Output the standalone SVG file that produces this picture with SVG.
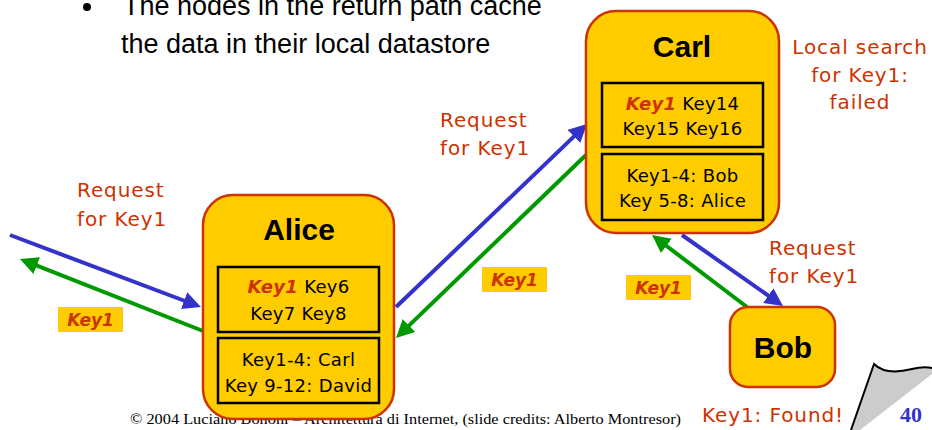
<svg xmlns="http://www.w3.org/2000/svg" width="932" height="430" viewBox="0 0 932 430">
  <style>
    .bullet { font-family: "Liberation Sans", Arial, sans-serif; font-size: 27px; fill: #000; }
    .footer { font-family: "Liberation Serif", "Times New Roman", serif; font-size: 14px; fill: #000; }
    .pageno { font-family: "Liberation Serif", "Times New Roman", serif; font-size: 22px; font-weight: bold; fill: #3333CC; }
    .node { fill: #FFCC00; stroke: #CC3300; stroke-width: 2.5; }
    .box { fill: none; stroke: #000; stroke-width: 2.5; }
    .title { font-family: "Liberation Sans", Arial, sans-serif; font-size: 30px; font-weight: bold; fill: #000; text-anchor: middle; }
    .entry { font-family: "DejaVu Sans", Verdana, sans-serif; font-size: 18px; letter-spacing: 0.3px; fill: #000; text-anchor: middle; }
    .hit { font-weight: bold; font-style: italic; fill: #CC3300; }
    .note { font-family: "DejaVu Sans", Verdana, sans-serif; font-size: 20px; letter-spacing: 0.9px; fill: #CC3300; }
    .tag { fill: #FFCC00; }
    .tagtext { font-family: "DejaVu Sans", Verdana, sans-serif; font-size: 17px; font-weight: bold; font-style: italic; fill: #CC3300; text-anchor: middle; }
    .req { fill: none; stroke: #3333CC; stroke-width: 4; marker-end: url(#headBlue); }
    .rep { fill: none; stroke: #009900; stroke-width: 4; marker-end: url(#headGreen); }
  </style>
  <defs>
    <marker id="headBlue" viewBox="0 0 18 18" refX="8" refY="9" markerWidth="18" markerHeight="18" markerUnits="userSpaceOnUse" orient="auto">
      <path d="M0,0 L18,9 L0,18 z" fill="#3333CC"/>
    </marker>
    <marker id="headGreen" viewBox="0 0 18 18" refX="8" refY="9" markerWidth="18" markerHeight="18" markerUnits="userSpaceOnUse" orient="auto">
      <path d="M0,0 L18,9 L0,18 z" fill="#009900"/>
    </marker>
  </defs>

  <!-- slide bullet text (first line runs off the top edge) -->
  <circle cx="87" cy="7" r="4" fill="#000"/>
  <text class="bullet" x="123" y="15">The nodes in the return path cache</text>
  <text class="bullet" x="121" y="53">the data in their local datastore</text>

  <!-- footer -->
  <text class="footer" x="130" y="424" textLength="551" lengthAdjust="spacingAndGlyphs">© 2004 Luciano Bononi – Architettura di Internet, (slide credits: Alberto Montresor)</text>

  <!-- page curl and number -->
  <path d="M874,364 C884,374 900,372 912,369 C920,367 927,367 932,368 L932,374 L860,430 L851,430 Z" fill="#CCCCCC"/>
  <path d="M851,430 L874,364 C884,374 900,372 912,369 C920,367 927,367 932,368" fill="none" stroke="#000" stroke-width="2"/>
  <text class="pageno" x="900" y="422">40</text>

  <!-- connectors -->
  <g id="connectors">
    <line class="req" x1="10" y1="235" x2="191.6" y2="303.5"/>
    <line class="rep" x1="203" y1="331" x2="29.3" y2="262.7"/>
    <line class="req" x1="396" y1="307" x2="579.8" y2="130.9"/>
    <line class="rep" x1="586" y1="155" x2="403.2" y2="331.1"/>
    <line class="req" x1="682" y1="235" x2="774.8" y2="300.2"/>
    <line class="rep" x1="747" y1="307" x2="660" y2="241"/>

    <text class="note" x="77" y="197">Request</text>
    <text class="note" x="77" y="226">for Key1</text>
    <text class="note" x="440" y="127">Request</text>
    <text class="note" x="440" y="155">for Key1</text>
    <text class="note" x="769" y="255">Request</text>
    <text class="note" x="769" y="283">for Key1</text>

    <rect class="tag" x="58" y="307" width="65" height="25"/>
    <text class="tagtext" x="90.5" y="326">Key1</text>
    <rect class="tag" x="482" y="267" width="65" height="25"/>
    <text class="tagtext" x="514.5" y="286">Key1</text>
    <rect class="tag" x="626" y="275" width="65" height="25"/>
    <text class="tagtext" x="658.5" y="294">Key1</text>
  </g>

  <!-- Alice -->
  <g id="alice">
    <rect class="node" x="203" y="195" width="191" height="224" rx="30"/>
    <text class="title" x="299" y="240">Alice</text>
    <rect class="box" x="218" y="267" width="161" height="65"/>
    <text class="entry" x="298.5" y="293"><tspan class="hit">Key1</tspan> Key6</text>
    <text class="entry" x="298.5" y="320">Key7 Key8</text>
    <rect class="box" x="218" y="338" width="161" height="65"/>
    <text class="entry" x="298.5" y="366">Key1-4: Carl</text>
    <text class="entry" x="298.5" y="392">Key 9-12: David</text>
  </g>

  <!-- Carl -->
  <g id="carl">
    <rect class="node" x="586" y="11" width="193" height="222" rx="30"/>
    <text class="title" x="682" y="57">Carl</text>
    <rect class="box" x="602" y="83" width="161" height="64"/>
    <text class="entry" x="682.5" y="110"><tspan class="hit">Key1</tspan> Key14</text>
    <text class="entry" x="682.5" y="135">Key15 Key16</text>
    <rect class="box" x="602" y="154" width="161" height="66"/>
    <text class="entry" x="682.5" y="182">Key1-4: Bob</text>
    <text class="entry" x="682.5" y="207">Key 5-8: Alice</text>
  </g>
  <g id="carl-note">
    <text class="note" x="860" y="54" text-anchor="middle">Local search</text>
    <text class="note" x="860" y="82" text-anchor="middle">for Key1:</text>
    <text class="note" x="860" y="109" text-anchor="middle">failed</text>
  </g>

  <!-- Bob -->
  <g id="bob">
    <rect class="node" x="730" y="307" width="105" height="80" rx="18"/>
    <text class="title" x="783" y="358">Bob</text>
  </g>
  <text class="note" x="702" y="422">Key1: Found!</text>
</svg>
